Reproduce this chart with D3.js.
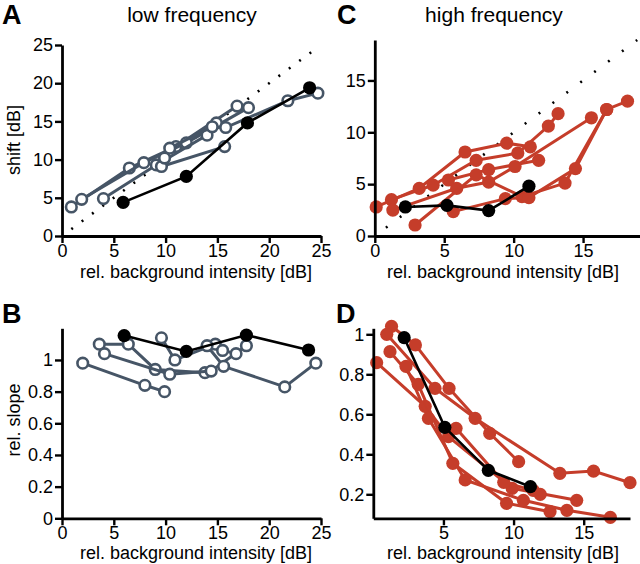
<!DOCTYPE html>
<html><head><meta charset="utf-8">
<script src="https://cdn.jsdelivr.net/npm/d3@7"></script>
<style>body{margin:0;background:#fff} text{font-family:"Liberation Sans",Arial,Helvetica,sans-serif;fill:#000}</style>
</head><body><svg id="c" width="640" height="564"></svg>
<script>
// ---------- data ----------
const GRAY = "#465566", RED = "#c53d2a";

const ticksXAB = [0, 5, 10, 15, 20, 25];
const ticksYA = [0, 5, 10, 15, 20, 25];
const ticksYB = [0, 0.2, 0.4, 0.6, 0.8, 1];
const ticksXC = [0, 5, 10, 15];
const ticksYC = [0, 5, 10, 15];
const ticksXD = [5, 10, 15];
const ticksYD = [0.2, 0.4, 0.6, 0.8, 1];

// Panel A: shift [dB] vs rel. background intensity, low frequency
const shiftLowGray = [
  [[0.9,3.8],[6.5,8.9],[11.0,11.7],[16.9,17.0]],
  [[1.9,4.8],[7.9,9.6],[12.0,12.2],[18.0,16.8]],
  [[4.0,4.9],[9.1,9.3],[14.0,13.2],[14.9,14.8]],
  [[9.6,9.1],[15.7,11.7]],
  [[9.9,10.2],[10.4,11.5],[14.5,14.3],[15.8,14.2],[21.8,17.7],[24.7,18.7]]
];
const shiftLowBlack = [[5.9,4.4],[12.0,7.8],[17.9,14.8],[23.9,19.4]];

// Panel B: rel. slope, low frequency
const slopeLowGray = [
  [[2.0,0.98],[8.0,0.84],[9.9,0.80]],
  [[3.6,1.10],[6.4,1.10],[9.0,0.94],[13.8,0.92]],
  [[4.1,1.04],[10.4,0.91],[14.4,0.93],[17.8,1.09]],
  [[9.6,1.14],[10.9,1.00],[14.8,1.10],[15.5,1.06],[16.8,1.04]],
  [[14.0,1.09],[15.6,0.96],[21.5,0.83],[24.5,0.98]]
];
const slopeLowBlack = [[6.0,1.154],[12.0,1.054],[17.8,1.157],[23.8,1.063]];

// Panel C: shift [dB], high frequency
const shiftHighRed = [
  [[0.1,2.8],[3.2,4.6],[6.5,8.1],[9.5,8.95],[11.2,8.6]],
  [[1.2,3.5],[4.2,4.9],[7.3,7.3],[10.3,8.0],[12.5,10.6],[13.2,11.8]],
  [[5.3,5.4],[8.2,6.4],[11.8,7.3]],
  [[1.3,2.5],[5.9,4.6],[8.2,5.2],[10.1,6.7],[15.6,11.4]],
  [[2.9,1.06],[7.3,5.9],[10.6,3.8],[13.7,5.1],[16.7,12.2],[18.2,13.0]],
  [[5.65,2.35],[9.4,3.6],[11.1,3.7],[14.45,6.5],[16.7,12.2]]
];
const shiftHighBlack = [[2.2,2.8],[5.2,2.95],[8.2,2.45],[11.1,4.8]];

// Panel D: rel. slope, high frequency
const slopeHighRed = [
  [[1.3,1.04],[3.0,0.947],[5.4,0.73],[8.3,0.505],[10.36,0.363]],
  [[0.96,1.0],[4.4,0.73],[7.26,0.58],[13.3,0.305],[15.7,0.316],[18.3,0.258]],
  [[0.24,0.858],[3.7,0.64],[5.36,0.488],[9.9,0.23],[14.5,0.17]],
  [[1.19,0.913],[3.2,0.75],[5.67,0.355],[9.5,0.155],[12.6,0.113]],
  [[2.33,0.84],[3.93,0.58],[6.55,0.272],[10.7,0.17],[13.8,0.12],[16.9,0.085]],
  [[5.9,0.53],[9.3,0.26],[11.4,0.22],[11.9,0.2]]
];
const slopeHighBlack = [[2.2,0.983],[5.1,0.535],[8.2,0.32],[11.2,0.238]];

// ---------- drawing ----------
const svg = d3.select("#c");
const FONT_TICK = 18, FONT_LAB = 18;

function panel(o) {
  const g = svg.append("g");
  const x = d3.scaleLinear().domain(o.xd).range(o.xr);
  const y = d3.scaleLinear().domain(o.yd).range(o.yr);
  if (o.diag) {
    const p0 = o.diag[0], p1 = o.diag[1];
    const len = Math.hypot(x(p1)-x(p0), y(p1)-y(p0));
    const step = len / (p1 - p0);
    g.append("line").attr("x1", x(p0)).attr("y1", y(p0)).attr("x2", x(p1)).attr("y2", y(p1))
      .attr("stroke", "#000").attr("stroke-width", 2.6)
      .attr("stroke-dasharray", `2,${(step-2).toFixed(2)}`);
  }
  const line = d3.line().x(d => x(d[0])).y(d => y(d[1]));
  o.series.forEach(s => {
    s.data.forEach(ser => {
      g.append("path").attr("d", line(ser)).attr("fill", "none")
        .attr("stroke", s.color).attr("stroke-width", s.lw);
      g.selectAll(null).data(ser).enter().append("circle")
        .attr("cx", d => x(d[0])).attr("cy", d => y(d[1])).attr("r", s.r)
        .attr("fill", s.open ? "#fff" : s.color)
        .attr("stroke", s.color).attr("stroke-width", s.open ? 2.6 : 0);
    });
  });
  const ax = g.append("g").attr("transform", `translate(0,${o.yr[0]})`)
    .call(d3.axisBottom(x).tickValues(o.xt).tickSize(7).tickPadding(1).tickSizeOuter(0).tickFormat(d3.format("")));
  const ay = g.append("g").attr("transform", `translate(${o.xr[0]},0)`)
    .call(d3.axisLeft(y).tickValues(o.yt).tickSize(7).tickPadding(2).tickSizeOuter(0).tickFormat(d3.format("")));
  [ax, ay].forEach(a => {
    a.select(".domain").attr("stroke", "#000").attr("stroke-width", 2.8);
    a.selectAll(".tick line").attr("stroke", "#000").attr("stroke-width", 2.4);
    a.selectAll(".tick text").attr("font-size", FONT_TICK)
      .attr("font-family", '"Liberation Sans",Arial,sans-serif').attr("fill", "#000");
  });
  g.append("text").attr("x", o.xlab[0]).attr("y", o.xlab[1]).attr("text-anchor", "middle")
    .attr("font-size", FONT_LAB).text("rel. background intensity [dB]");
  if (o.ylab) g.append("text").attr("transform", `translate(${o.ylab[0]},${o.ylab[1]}) rotate(-90)`)
    .attr("text-anchor", "middle").attr("font-size", FONT_LAB).text(o.ylab[2]);
  g.append("text").attr("x", o.letter[0]).attr("y", o.letter[1]).attr("font-size", 27)
    .attr("font-weight", "bold").text(o.letter[2]);
  if (o.title) g.append("text").attr("x", o.title[0]).attr("y", o.title[1]).attr("text-anchor", "middle")
    .attr("font-size", 21).text(o.title[2]);
}

panel({
  xd: [0, 25], xr: [62, 321], yd: [0, 25], yr: [236, 45], xt: ticksXAB, yt: ticksYA,
  diag: [0.9, 24.6],
  series: [
    {data: shiftLowGray, color: GRAY, lw: 3, r: 5.3, open: true},
    {data: [shiftLowBlack], color: "#000", lw: 2.6, r: 6.6, open: false}
  ],
  xlab: [196, 278], ylab: [20, 140, "shift [dB]"], letter: [2, 24, "A"], title: [192, 22, "low frequency"]
});
panel({
  xd: [0, 25], xr: [62, 321], yd: [0, 1.2], yr: [518.3, 328.3], xt: ticksXAB, yt: ticksYB,
  series: [
    {data: slopeLowGray, color: GRAY, lw: 3, r: 5.3, open: true},
    {data: [slopeLowBlack], color: "#000", lw: 2.6, r: 6.6, open: false}
  ],
  xlab: [196, 559], ylab: [20, 420, "rel. slope"], letter: [2, 323, "B"]
});
panel({
  xd: [0, 19.1], xr: [374.8, 640], yd: [0, 18.9], yr: [236, 40], xt: ticksXC, yt: ticksYC,
  diag: [0.8, 18.9],
  series: [
    {data: shiftHighRed, color: RED, lw: 3, r: 6.6, open: false},
    {data: [shiftHighBlack], color: "#000", lw: 2.6, r: 6.6, open: false}
  ],
  xlab: [503, 278], letter: [337, 24, "C"], title: [494, 22, "high frequency"]
});
panel({
  xd: [0, 18.3], xr: [373.3, 630], yd: [0.08, 1.03], yr: [518.3, 328.3], xt: ticksXD, yt: ticksYD,
  series: [
    {data: slopeHighRed, color: RED, lw: 3, r: 6.6, open: false},
    {data: [slopeHighBlack], color: "#000", lw: 2.6, r: 6.6, open: false}
  ],
  xlab: [503, 559], letter: [336, 323, "D"]
});
</script></body></html>
